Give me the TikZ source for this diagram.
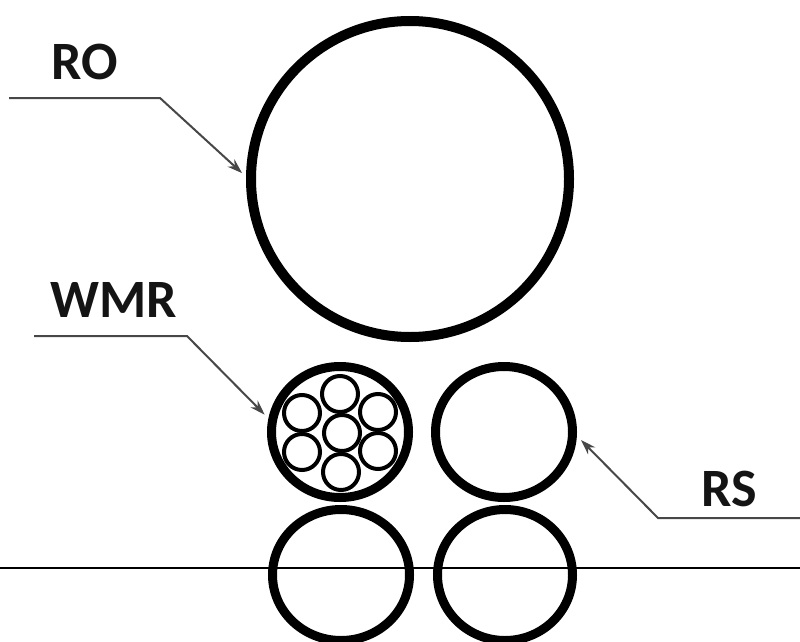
\documentclass[tikz,border=0pt]{standalone}
\usepackage{fontspec}
\setmainfont{Carlito}
\usetikzlibrary{shapes.geometric,arrows.meta}
\tikzset{
  ring/.style={draw=black,ellipse,inner sep=0pt,outer sep=9pt,line width=9pt,minimum width=137pt,minimum height=131pt},
  bigring/.style={ring,line width=10pt,minimum width=318pt,minimum height=316pt},
  strand/.style={draw=black,circle,inner sep=0pt,outer sep=0pt,line width=4pt,minimum size=36pt},
  leader/.style={draw=black!72,line width=2pt,-{Stealth[length=15pt,width=10pt]}},
  tag/.style={font=\bfseries\fontsize{54}{54}\selectfont,text=black!92,inner sep=0pt,anchor=center},
  baseline rule/.style={draw=black,line width=2.4pt}
}
\begin{document}
\begin{tikzpicture}[x=1pt,y=-1pt]
\useasboundingbox (0,0) rectangle (800,642);
\coordinate (ruleL) at (0,568);
\coordinate (ruleR) at (800,568);
\draw[baseline rule] (ruleL) -- (ruleR);
\node[bigring] (ro) at (410,179) {};
\node[ring] (wmr) at (340,432) {};
\node[ring] (rs) at (504,432) {};
\node[ring] (bl) at (341,575) {};
\node[ring,minimum width=135pt] (br) at (505,575) {};
\node[strand] (s1) at (340,394) {};
\node[strand] (s2) at (302,413) {};
\node[strand] (s3) at (378,412) {};
\node[strand] (s4) at (342,433) {};
\node[strand] (s5) at (302,452) {};
\node[strand] (s6) at (378,451) {};
\node[strand] (s7) at (341,472) {};
\node[tag] (tRO) at (85,62) {RO};
\node[tag] (tWMR) at (114,300) {WMR};
\node[tag] (tRS) at (729,489) {RS};
\coordinate (roS) at (9,98);
\coordinate (roB) at (160,98);
\coordinate (wmrS) at (34,336);
\coordinate (wmrB) at (187,336);
\coordinate (rsS) at (800,518);
\coordinate (rsB) at (658,518);
\draw[leader] (roS) -- (roB) -- (ro.178);
\draw[leader] (wmrS) -- (wmrB) -- (wmr.167);
\draw[leader] (rsS) -- (rsB) -- (rs.-6);
\end{tikzpicture}
\end{document}
